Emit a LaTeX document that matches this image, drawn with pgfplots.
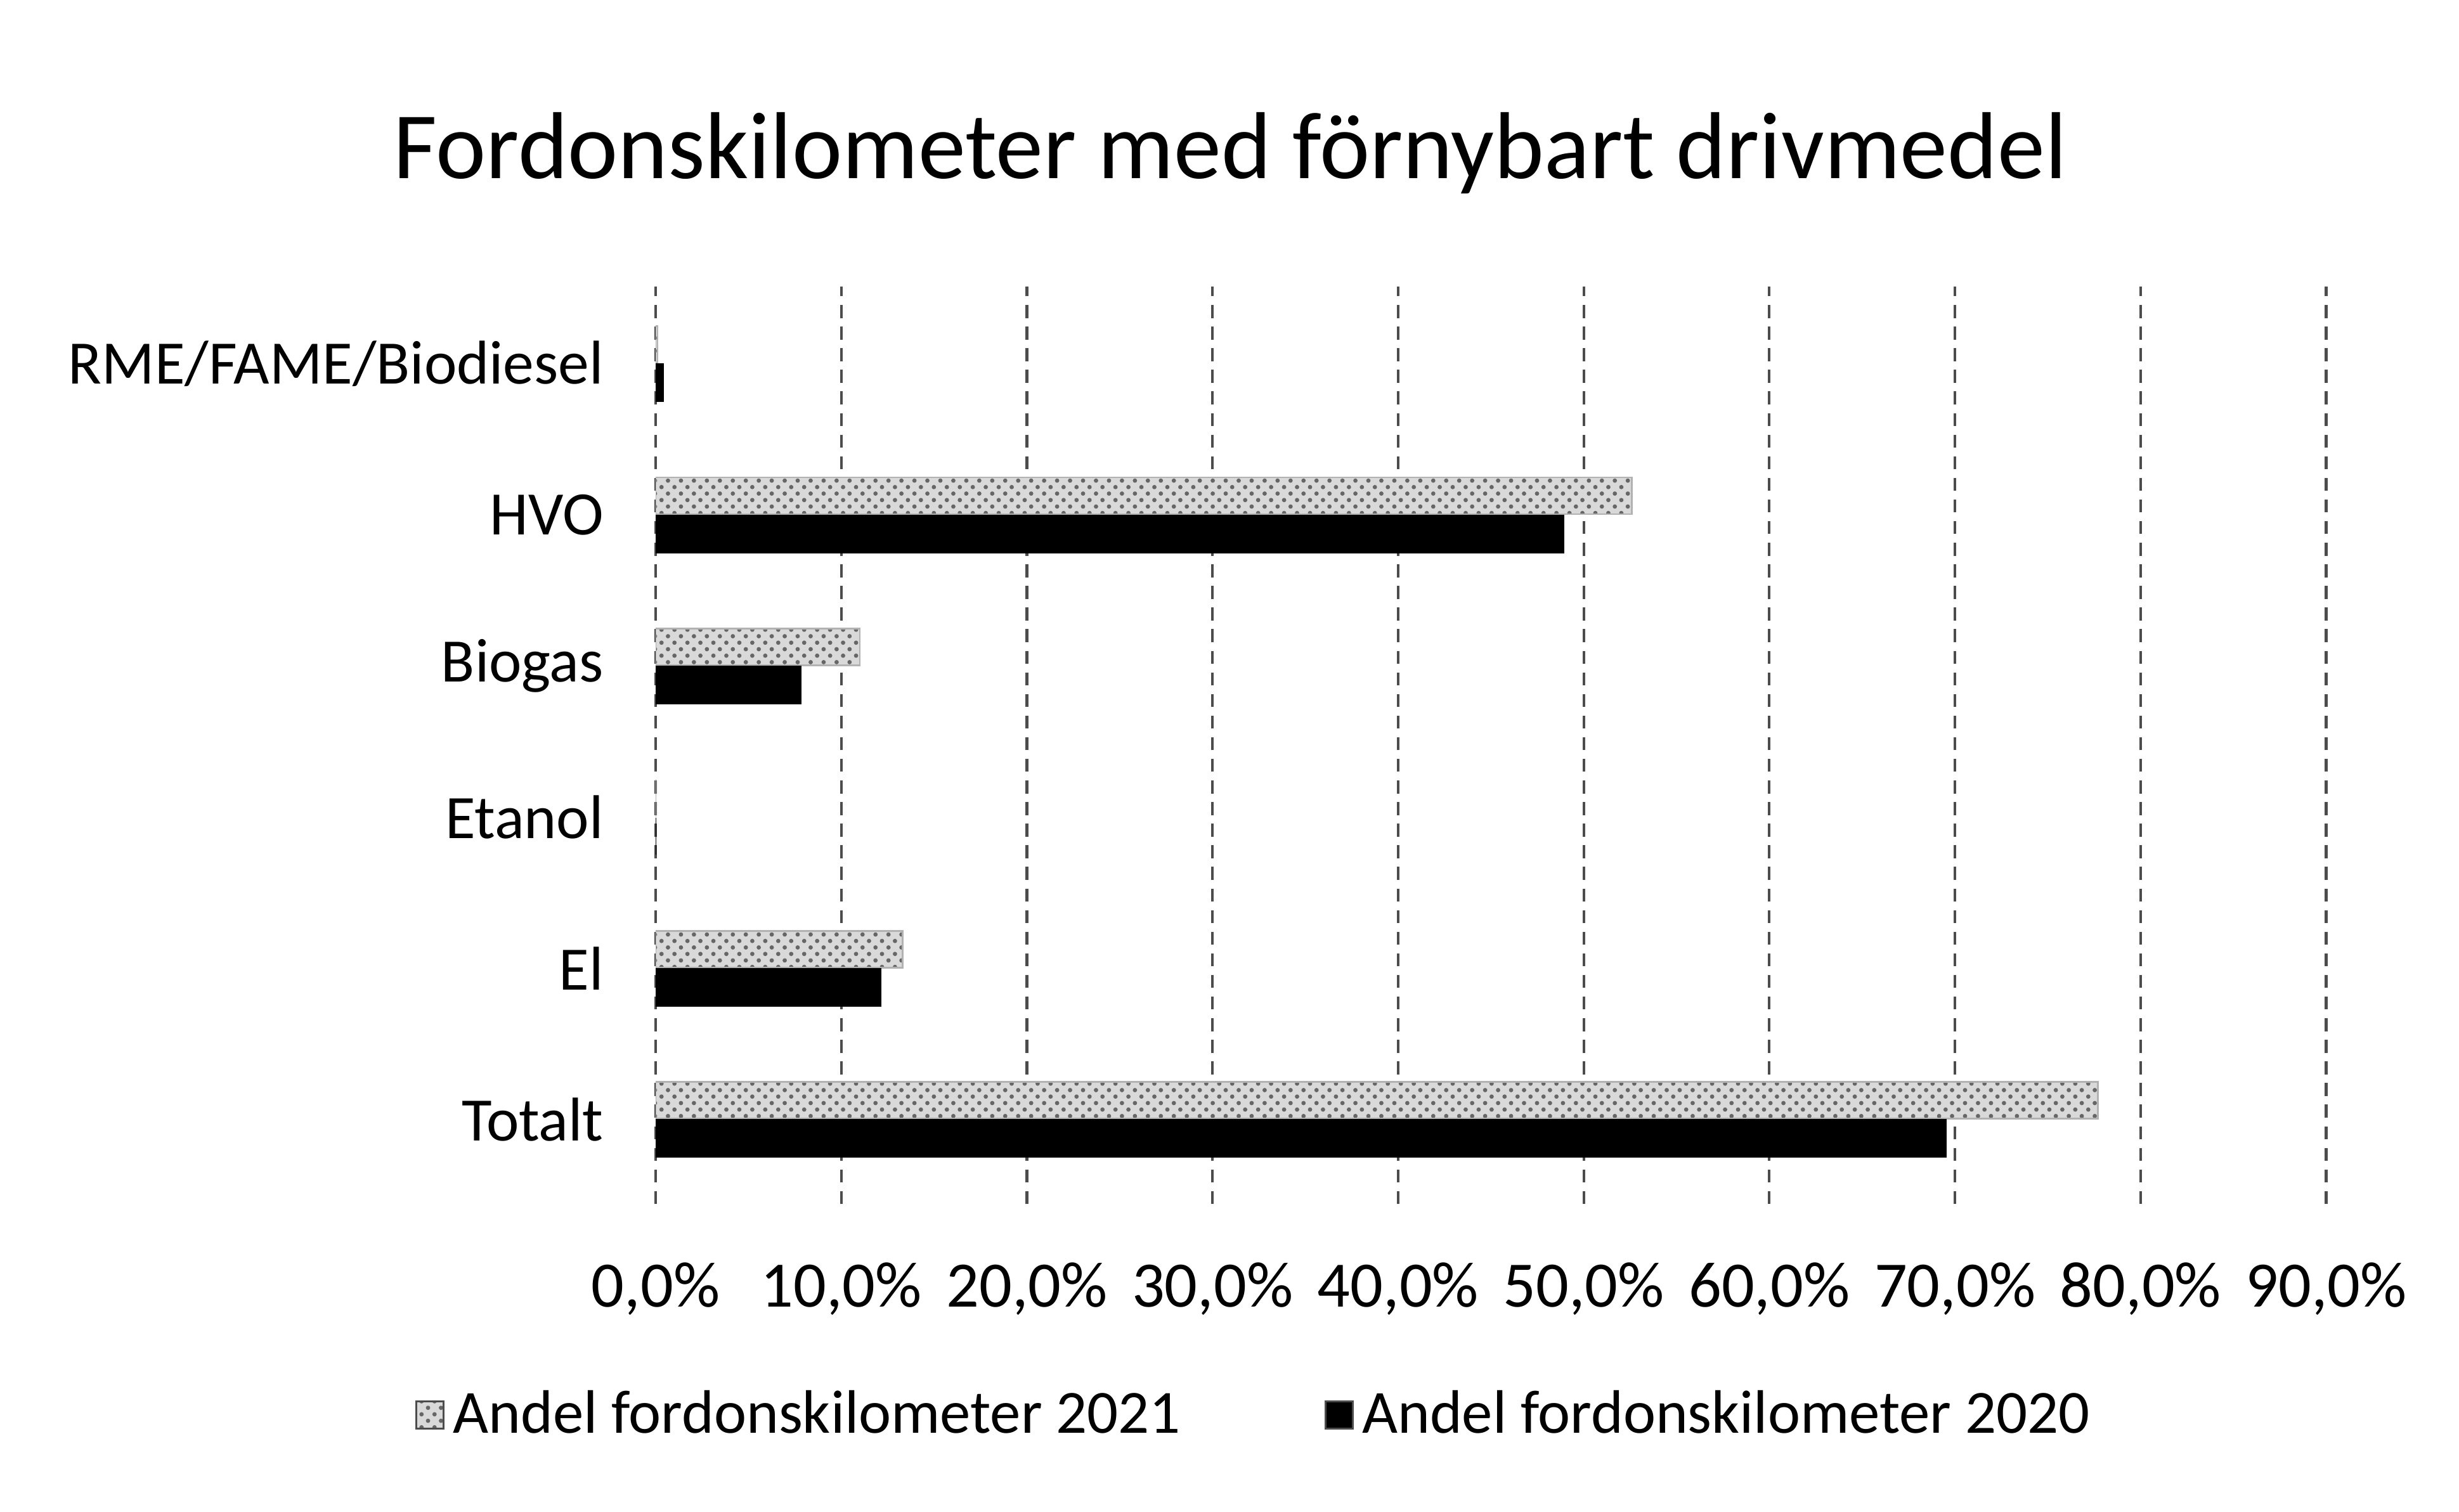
\documentclass[border=0pt]{standalone}
\usepackage{pgfplots}
\pgfplotsset{compat=1.18}
\usepackage{fontspec}
\setmainfont{Carlito}
\usetikzlibrary{patterns}

\begin{document}
\begin{tikzpicture}
  \begin{axis}[
    name=ax,
    xbar, bar width=0.30cm,
    scale only axis, width=13.58cm, height=7.46cm,
    xmin=0, xmax=90, ymin=-0.56, ymax=5.51,
    xtick={0,10,...,90},
    ytick={0,1,2,3,4,5},
    yticklabels={Totalt, El, Etanol, Biogas, HVO, RME/FAME/Biodiesel},
    xticklabel={\pgfmathprintnumber[fixed,fixed zerofill,precision=1,use comma]{\tick}\%},
    /pgf/number format/assume math mode=true,
    xticklabel style={font=\fontsize{15}{18}\selectfont, black, yshift=-0.35cm},
    yticklabel style={font=\fontsize{14.3}{17}\selectfont, black, xshift=-0.3cm},
    major tick length=0,
    axis line style={draw=none},
    xmajorgrids, grid style={gray!60!black, densely dashed, line width=0.6pt},
    title={Fordonskilometer med förnybart drivmedel},
    title style={font=\fontsize{22}{26}\selectfont, at={(0.344,1.117)}, anchor=center, yshift=0pt},
    legend style={draw=none, at={(0.36,-0.23)}, anchor=center, legend columns=2,
      font=\fontsize{14.2}{17}\selectfont, /tikz/every even column/.append style={column sep=1.1cm}},
    legend image code/.code={\draw[#1, draw=black!70] (0cm,-0.11cm) rectangle (0.22cm,0.11cm);},
  ]
    \addplot[bar shift=0.155cm, fill=gray!30, draw=gray!60,
      postaction={pattern=crosshatch dots, pattern color=gray!80!black}]
      coordinates {(77.7,0) (13.3,1) (0,2) (11.0,3) (52.6,4) (0.1,5)};
    \addlegendentry{Andel fordonskilometer 2021}
    \addplot[bar shift=-0.155cm, fill=black, draw=black]
      coordinates {(69.5,0) (12.1,1) (0,2) (7.8,3) (48.9,4) (0.4,5)};
    \addlegendentry{Andel fordonskilometer 2020}
  \end{axis}
  \path[use as bounding box] ([xshift=-5.33cm,yshift=-2.5cm]ax.south west)
    rectangle ([xshift=1.08cm,yshift=2.33cm]ax.north east);
\end{tikzpicture}
\end{document}
